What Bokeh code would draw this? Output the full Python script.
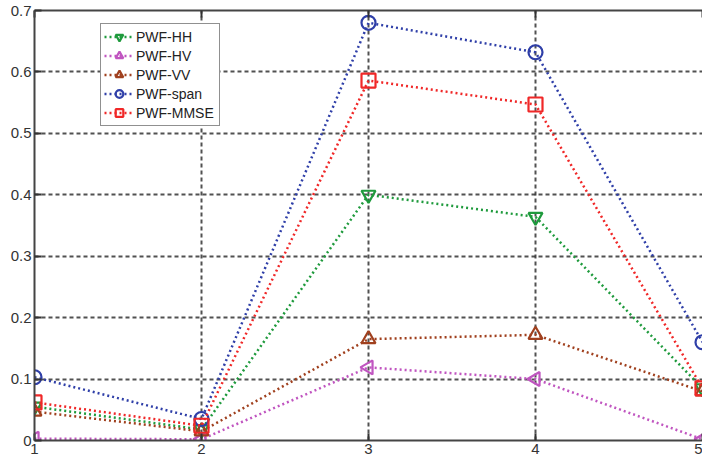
import math
from bokeh.plotting import figure
from bokeh.models import Range1d, FixedTicker, Legend, LegendItem, LinearAxis, ColumnDataSource
from bokeh.embed import file_html
from bokeh.resources import INLINE

x = [1, 2, 3, 4, 5]
pwf_hh = [0.055, 0.018, 0.400, 0.364, 0.085]
pwf_hv = [0.003, 0.002, 0.119, 0.100, 0.002]
pwf_vv = [0.047, 0.015, 0.165, 0.172, 0.080]
pwf_span = [0.103, 0.035, 0.680, 0.632, 0.160]
pwf_mmse = [0.062, 0.024, 0.586, 0.547, 0.085]

names = ["PWF-HH", "PWF-HV", "PWF-VV", "PWF-span", "PWF-MMSE"]
colors = ["#1e9a3c", "#c055c0", "#a0401e", "#2f3fa8", "#f02828"]
markers = ["inverted_triangle", "triangle", "triangle", "circle", "square"]
angles = [0, math.pi / 2, 0, 0, 0]
series = [pwf_hh, pwf_hv, pwf_vv, pwf_span, pwf_mmse]

yt = [0, 0.1, 0.2, 0.3, 0.4, 0.5, 0.6, 0.7]

p = figure(width=702, height=461, output_backend="svg", toolbar_location=None,
           x_range=Range1d(1, 5), y_range=Range1d(0, 0.7),
           min_border_left=34, min_border_right=0, min_border_top=10, min_border_bottom=21)

p.outline_line_color = None

for ax in (p.xaxis[0], p.yaxis[0]):
    ax.axis_line_color = "#444444"
    ax.axis_line_width = 2
    ax.major_tick_in = 7
    ax.major_tick_out = 0
    ax.minor_tick_line_color = None
    ax.major_tick_line_color = "#333333"
    ax.major_tick_line_width = 2
    ax.major_label_text_font = "Liberation Sans"
    ax.major_label_text_color = "#333333"

p.yaxis.major_label_text_font_size = "15px"
p.yaxis.major_label_standoff = 3
p.xaxis.major_label_text_font_size = "15px"
p.xaxis.major_label_standoff = 3

p.xaxis.ticker = FixedTicker(ticks=x)
p.xaxis.major_label_overrides = {1: "1", 2: "2", 3: "3", 4: "4", 5: "5"}
p.yaxis.ticker = FixedTicker(ticks=yt)
p.yaxis.major_label_overrides = {0: "0"}

top = LinearAxis(ticker=FixedTicker(ticks=x),
                 major_label_overrides={1: "", 2: "", 3: "", 4: "", 5: ""},
                 major_tick_in=7, major_tick_out=0, minor_tick_line_color=None,
                 axis_line_color="#444444", axis_line_width=2,
                 major_tick_line_color="#333333", major_tick_line_width=2,
                 major_label_standoff=0, major_label_text_font_size="1px")
p.add_layout(top, "above")

p.xgrid.ticker = FixedTicker(ticks=x)
p.ygrid.ticker = FixedTicker(ticks=yt)
for g in (p.xgrid[0], p.ygrid[0]):
    g.grid_line_color = "#333333"
    g.grid_line_dash = "4 3"
    g.grid_line_width = 2
    g.grid_line_alpha = 0.85

items = []
for name, c, m, a, s in zip(names, colors, markers, angles, series):
    src = ColumnDataSource(dict(x=x, y=s, ang=[a] * len(x)))
    r1 = p.line("x", "y", source=src, line_color=c, line_width=2.5, line_dash="2 3")
    r2 = p.scatter("x", "y", source=src, marker=m, angle="ang", size=14, fill_color=None,
                   line_color=c, line_width=2.2)
    items.append(LegendItem(label=name, renderers=[r1, r2], index=0))

legend = Legend(items=items, location=(66, 314))
legend.label_text_font = "Liberation Sans"
legend.label_text_font_size = "14px"
legend.label_text_color = "#222222"
legend.border_line_color = "#222222"
legend.border_line_width = 1.5
legend.padding = 3
legend.spacing = 0
legend.margin = 0
legend.label_height = 19
legend.glyph_height = 19
legend.glyph_width = 30
legend.label_width = 80
legend.label_standoff = 2
legend.background_fill_alpha = 1
p.add_layout(legend, "center")

open("out.html", "w").write(file_html(p, INLINE))
